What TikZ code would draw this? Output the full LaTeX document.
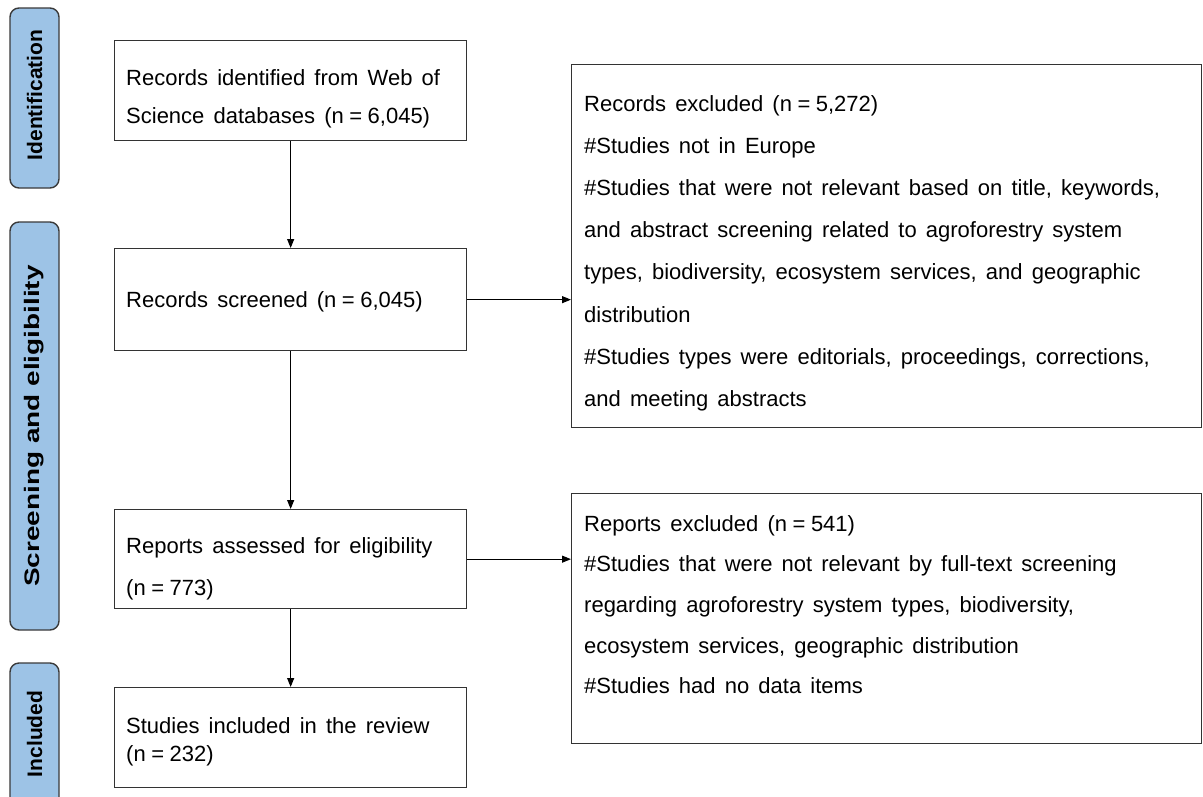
\documentclass[tikz,border=0pt]{standalone}
\usepackage{fontspec}
\setmainfont[WordSpace=1.5]{Liberation Sans}
\newfontfamily\barfont{Liberation Sans}
\usetikzlibrary{arrows.meta}
\definecolor{barfill}{HTML}{9DC3E6}
\definecolor{barline}{HTML}{3A3A3A}
\definecolor{boxline}{HTML}{333333}
\newcommand\nequals{n\hspace{5.5pt}=\hspace{5.5pt}}
\begin{document}
\begin{tikzpicture}[x=1pt,y=-1pt,
  stagebar/.style={draw=barline, line width=1.4pt, fill=barfill, rounded corners=9pt, inner sep=0pt},
  stagetxt/.style={rotate=90, font=\barfont\fontsize{21}{24}\selectfont\bfseries, text=black},
  flowbox/.style={draw=boxline, line width=1.3pt, inner sep=0pt, anchor=north west},
  boxtxt/.style={anchor=north west, inner sep=0pt, align=left, text=black},
  flowarrow/.style={draw=black, line width=1.1pt, -{Triangle[length=9pt,width=7pt]}}
]
\useasboundingbox (0,0) rectangle (1203,796);
\fill[white] (0,0) rectangle (1203,796);

% stage bars
\node[stagebar, minimum width=49pt, minimum height=180pt] (sid) at (34.5,98) {};
\node[stagetxt] (tid) at (34.5,95) {Identification};
\node[stagebar, minimum width=49pt, minimum height=408pt] (sse) at (34.5,426) {};
\node[stagetxt] (tse) at (34.5,426) {\scalebox{1.33}[1]{Screening and eligibility}};
\node[stagebar, minimum width=49pt, minimum height=160pt] (sin) at (34.5,743) {};
\node[stagetxt] (tin) at (34.5,734) {Included};

% main boxes
\node[flowbox, minimum width=352pt, minimum height=100pt] (b1) at (114,40) {};
\node[flowbox, minimum width=352pt, minimum height=102pt] (b2) at (114,248) {};
\node[flowbox, minimum width=352pt, minimum height=99pt] (b3) at (114,509) {};
\node[flowbox, minimum width=352pt, minimum height=100pt] (b4) at (114,687) {};
\node[flowbox, minimum width=630pt, minimum height=363pt] (r1) at (571,64) {};
\node[flowbox, minimum width=630pt, minimum height=250pt] (r2) at (571,493) {};

% texts
\node[boxtxt, font=\fontsize{22}{38}\selectfont] (t1) at (126,69)
  {Records identified from Web of\\Science databases (\nequals 6,045)};
\node[boxtxt, font=\fontsize{22}{39}\selectfont] (t2) at (126,291)
  {Records screened (\nequals 6,045)};
\node[boxtxt, font=\fontsize{22}{42}\selectfont] (t3) at (126,537)
  {Reports assessed for eligibility\\(\nequals 773)};
\node[boxtxt, font=\fontsize{22}{28}\selectfont] (t4) at (126,717)
  {Studies included in the review\\(\nequals 232)};
\node[boxtxt, font=\fontsize{22}{42.2}\selectfont] (t5) at (584,95)
  {Records excluded (\nequals 5,272)\\
   \#Studies not in Europe\\
   \#Studies that were not relevant based on title, keywords,\\
   and abstract screening related to agroforestry system\\
   types, biodiversity, ecosystem services, and geographic\\
   distribution\\
   \#Studies types were editorials, proceedings, corrections,\\
   and meeting abstracts};
\node[boxtxt, font=\fontsize{22}{40.7}\selectfont] (t6) at (584,515)
  {Reports excluded (\nequals 541)\\
   \#Studies that were not relevant by full-text screening\\
   regarding agroforestry system types, biodiversity,\\
   ecosystem services, geographic distribution\\
   \#Studies had no data items};

% connectors
\draw[flowarrow] (b1.south) -- (b2.north);
\draw[flowarrow] (b2.south) -- (b3.north);
\draw[flowarrow] (b3.south) -- (b4.north);
\draw[flowarrow] (b2.east) -- (b2.east -| r1.west);
\draw[flowarrow] (b3.east) -- (b3.east -| r2.west);
\end{tikzpicture}
\end{document}
